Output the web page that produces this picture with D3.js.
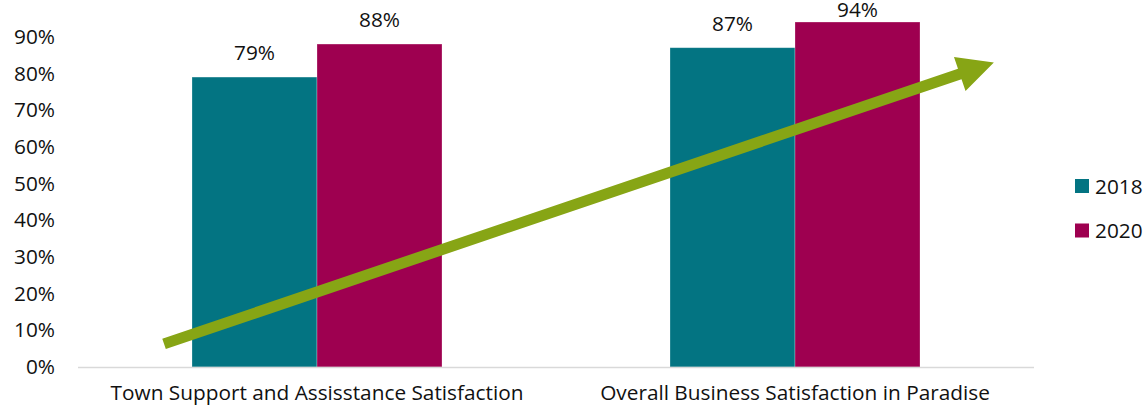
<!DOCTYPE html>
<html>
<head>
<meta charset="utf-8">
<script src="https://cdn.jsdelivr.net/npm/d3@7"></script>
<style>
  body { margin: 0; background: #fff; }
  svg text { font-family: "Open Sans", "Noto Sans", sans-serif; fill: #111; }
</style>
</head>
<body>
<div id="chart"></div>
<script>
// Data
const categories = ['Town Support and Assisstance Satisfaction', 'Overall Business Satisfaction in Paradise'];
const years = ['2018', '2020'];
const values2018 = [0.79, 0.87];
const values2020 = [0.88, 0.94];
const yTicks = [0, 0.1, 0.2, 0.3, 0.4, 0.5, 0.6, 0.7, 0.8, 0.9];
// trend arrow, in plot fraction (x) and value (y)
const trendArrow = [{ x: 0.09, y: 0.063 }, { x: 0.958, y: 0.83 }];

const colors = { '2018': '#037482', '2020': '#9E0050' };

const margin = { top: 0, right: 111, bottom: 43, left: 78 };
const totalW = 1145, totalH = 410;
const width = totalW - margin.left - margin.right;
const height = totalH - margin.top - margin.bottom;
const fontSize = '20.8px';

const svg = d3.select('#chart')
    .append('svg')
    .attr('width', totalW)
    .attr('height', totalH)
    .append('g')
    .attr('transform', `translate(${margin.left},${margin.top})`);

const x0 = d3.scaleBand()
    .domain(categories)
    .range([0, width])
    .paddingInner(0.477)
    .paddingOuter(0.2385);

const x1 = d3.scaleBand()
    .domain(years)
    .range([0, x0.bandwidth()]);

const y = d3.scaleLinear()
    .domain([0, 1])
    .range([height, 0]);

const rows = categories.map((c, i) => ({ cat: c, '2018': values2018[i], '2020': values2020[i] }));

// Y axis labels (no line, no ticks)
const yAxis = svg.append('g')
    .call(d3.axisLeft(y).tickValues(yTicks).tickFormat(d3.format('.0%')).tickSize(0).tickPadding(23));
yAxis.select('.domain').remove();
yAxis.selectAll('text').style('font-size', fontSize).attr('fill', '#111');

// Bars
const groups = svg.selectAll('.group')
    .data(rows)
    .enter()
    .append('g')
    .attr('class', 'group')
    .attr('transform', d => `translate(${x0(d.cat)},0)`);

groups.selectAll('rect')
    .data(d => years.map(k => ({ key: k, value: d[k] })))
    .enter()
    .append('rect')
    .attr('x', d => x1(d.key))
    .attr('y', d => y(d.value))
    .attr('width', x1.bandwidth())
    .attr('height', d => height - y(d.value))
    .attr('fill', d => colors[d.key])
    .attr('stroke', '#ffffff')
    .attr('stroke-opacity', 0.35)
    .attr('stroke-width', 0.75);

// Value labels (kept inside the top edge)
groups.selectAll('.val')
    .data(d => years.map(k => ({ key: k, value: d[k] })))
    .enter()
    .append('text')
    .attr('class', 'val')
    .attr('x', d => x1(d.key) + x1.bandwidth() / 2)
    .attr('y', d => Math.max(y(d.value) - 17, 17))
    .attr('text-anchor', 'middle')
    .style('font-size', fontSize)
    .text(d => d3.format('.0%')(d.value));

// Baseline
svg.append('line')
    .attr('x1', 0)
    .attr('x2', width)
    .attr('y1', height + 0.5)
    .attr('y2', height + 0.5)
    .attr('stroke', '#d9d9d9')
    .attr('stroke-width', 1.5);

// X axis labels
const xAxis = svg.append('g')
    .attr('transform', `translate(0,${height})`)
    .call(d3.axisBottom(x0).tickSize(0).tickPadding(18));
xAxis.select('.domain').remove();
xAxis.selectAll('text').style('font-size', fontSize).attr('fill', '#111');

// Trend arrow
const ax = d3.scaleLinear().domain([0, 1]).range([0, width]);
const p0 = [ax(trendArrow[0].x), y(trendArrow[0].y)];
const p1 = [ax(trendArrow[1].x), y(trendArrow[1].y)];
const ang = Math.atan2(p1[1] - p0[1], p1[0] - p0[0]);
const headLen = 36, headHalf = 18, shaftHalf = 5.5;
const ux = Math.cos(ang), uy = Math.sin(ang);
const nx = -uy, ny = ux;
const bx = p1[0] - ux * headLen, by = p1[1] - uy * headLen;
const arrowPts = [
    [p0[0] + nx * shaftHalf, p0[1] + ny * shaftHalf],
    [bx + nx * shaftHalf, by + ny * shaftHalf],
    [bx + nx * headHalf, by + ny * headHalf],
    p1,
    [bx - nx * headHalf, by - ny * headHalf],
    [bx - nx * shaftHalf, by - ny * shaftHalf],
    [p0[0] - nx * shaftHalf, p0[1] - ny * shaftHalf]
];
svg.append('polygon')
    .attr('points', arrowPts.map(p => p.join(',')).join(' '))
    .attr('fill', '#87A515');

// Legend
const legend = svg.append('g')
    .attr('transform', `translate(${width + 41}, 179)`);

years.forEach((yr, i) => {
    const row = legend.append('g')
        .attr('transform', `translate(0, ${i * 44.5})`);
    row.append('rect')
        .attr('width', 14)
        .attr('height', 14)
        .attr('fill', colors[yr]);
    row.append('text')
        .attr('x', 20)
        .attr('y', 14.5)
        .style('font-size', fontSize)
        .text(yr);
});
</script>
</body>
</html>
